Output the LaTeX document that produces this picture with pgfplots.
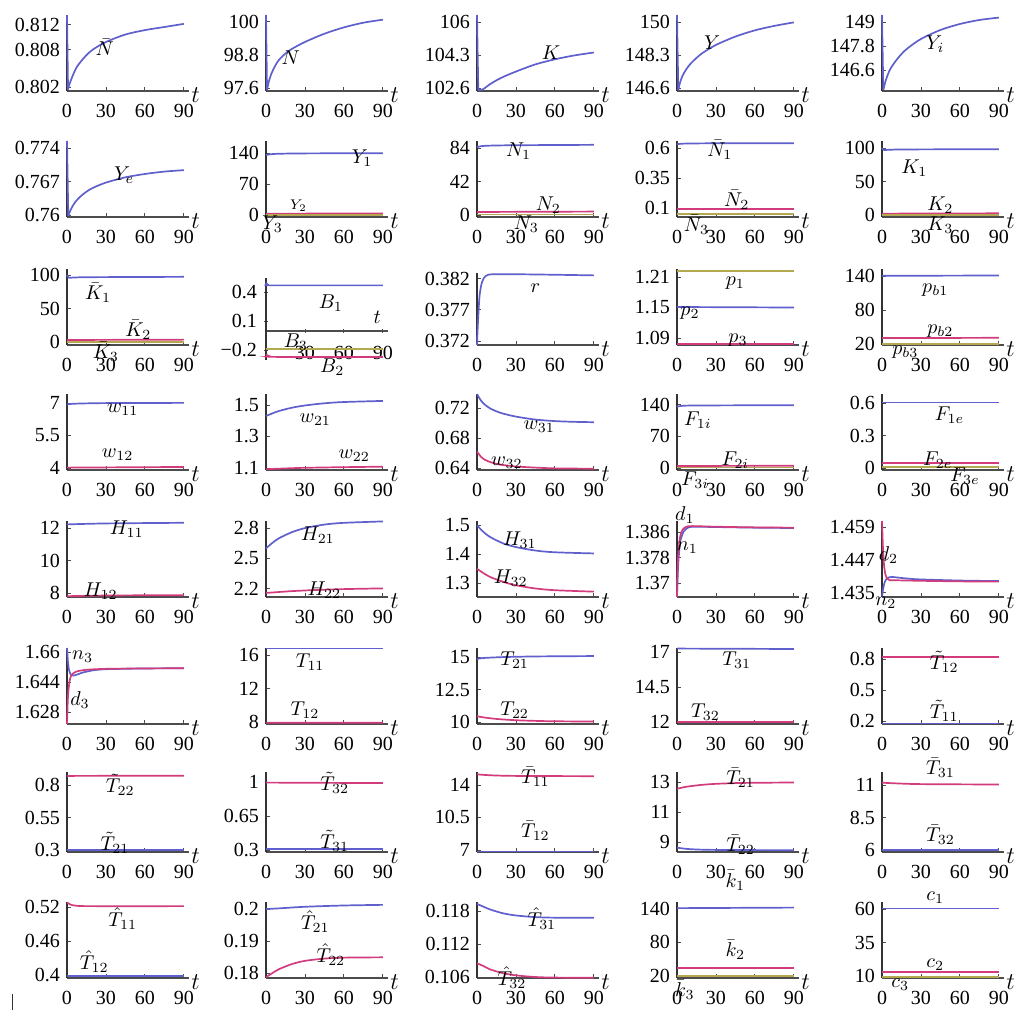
\documentclass[border=0pt]{standalone}
\usepackage{fontspec}
\setmainfont{Liberation Serif}
\usepackage{pgfplots}
\pgfplotsset{compat=1.18}
\definecolor{cb}{RGB}{95,95,205}
\definecolor{cm}{RGB}{210,60,125}
\definecolor{co}{RGB}{180,168,80}

\pgfplotsset{
  cell/.style={
    scale only axis, width=61pt, height=38pt,
    xmin=0, xmax=94,
    axis lines=left,
    x axis line style={-, black!70, line width=0.8pt},
    y axis line style={-, black!80, line width=0.6pt},
    xtick={0,30,60,90}, xticklabels={0,30,60,90},
    tick align=inside, major tick length=2pt,
    tick style={black!70, line width=0.4pt},
    tick label style={font=\fontsize{10}{10}\selectfont},
    xticklabel style={yshift=-3pt},
    /pgf/number format/assume math mode=true,
    xlabel={$t$},
    xlabel style={at={(rel axis cs:1,0)}, anchor=west, inner sep=1pt, yshift=-2pt, font=\large},
    clip=false,
  },
  pos/.style 2 args={at={(#1*0.5pt,-#2*0.5pt)}, anchor=south west},
  bl/.style={color=cb, line width=0.85pt},
  mg/.style={color=cm, line width=0.85pt},
  ol/.style={color=co, line width=0.85pt},
}
\newcommand\lab[3]{\node[inner sep=0pt] at (axis cs:#1,#2) {$#3$};}

\begin{document}
\begin{tikzpicture}
\useasboundingbox (0,0) rectangle (509pt,-505.5pt);

% ---------- row 1
\begin{axis}[cell, pos={67}{91}, ymin=0.80136, ymax=0.81352,
  ytick={0.802,0.808,0.812}, yticklabels={0.802,0.808,0.812}]
\addplot[bl] coordinates {(0,0.8135) (0.8,0.8016)};
\addplot[bl,smooth] coordinates {(0.8,0.8016) (2,0.8025) (4,0.8036) (7,0.805) (10,0.8059) (15,0.8071) (20,0.808) (30,0.8092) (45,0.8104) (60,0.8111) (75,0.8116) (90,0.8121)};
\lab{29}{0.8084}{\bar{N}}
\end{axis}

\begin{axis}[cell, pos={266}{91}, ymin=97.49, ymax=100.25,
  ytick={97.6,98.8,100}, yticklabels={97.6,98.8,100}]
\addplot[bl] coordinates {(0,100.25) (0.8,97.52)};
\addplot[bl,smooth] coordinates {(0.8,97.52) (2,97.8) (4,98.1) (7,98.4) (10,98.62) (15,98.85) (20,99.02) (30,99.27) (45,99.57) (60,99.8) (75,99.97) (90,100.08)};
\lab{19}{98.7}{N}
\end{axis}

\begin{axis}[cell, pos={477}{91}, ymin=102.45, ymax=106.36,
  ytick={102.6,104.3,106}, yticklabels={102.6,104.3,106}]
\addplot[bl] coordinates {(0,106.36) (1,102.5)};
\addplot[bl,smooth] coordinates {(1,102.5) (4,102.52) (7,102.65) (10,102.8) (15,103.0) (20,103.17) (30,103.45) (45,103.82) (60,104.08) (75,104.28) (90,104.43)};
\lab{57}{104.4}{K}
\end{axis}

\begin{axis}[cell, pos={677}{91}, ymin=146.45, ymax=150.36,
  ytick={146.6,148.3,150}, yticklabels={146.6,148.3,150}]
\addplot[bl] coordinates {(0,150.36) (1,146.5)};
\addplot[bl,smooth] coordinates {(1,146.5) (2,146.8) (4,147.2) (7,147.55) (10,147.82) (15,148.15) (20,148.42) (30,148.82) (45,149.25) (60,149.57) (75,149.8) (90,149.98)};
\lab{27}{148.95}{Y}
\end{axis}

\begin{axis}[cell, pos={882}{91}, ymin=145.55, ymax=149.35,
  ytick={146.6,147.8,149}, yticklabels={146.6,147.8,149}]
\addplot[bl] coordinates {(0,149.35) (1,145.6)};
\addplot[bl,smooth] coordinates {(1,145.6) (3,146.1) (6,146.6) (10,147.0) (15,147.4) (20,147.7) (30,148.15) (45,148.6) (60,148.9) (75,149.1) (90,149.22)};
\lab{41}{147.9}{Y_i}
\end{axis}

% ---------- row 2
\begin{axis}[cell, pos={67}{217}, ymin=0.7596, ymax=0.7755,
  ytick={0.76,0.767,0.774}, yticklabels={0.76,0.767,0.774}]
\addplot[bl] coordinates {(0,0.7755) (1,0.7598)};
\addplot[bl,smooth] coordinates {(1,0.7598) (3,0.7612) (6,0.7626) (10,0.7638) (15,0.7649) (20,0.7657) (30,0.7668) (45,0.7679) (60,0.7686) (75,0.7691) (90,0.7694)};
\lab{44}{0.7683}{Y_e}
\end{axis}

\begin{axis}[cell, pos={266}{217}, ymin=-4.5, ymax=167,
  ytick={0,70,140}, yticklabels={0,70,140}]
\addplot[bl,smooth] coordinates {(0,135) (3,137) (10,138.2) (30,139) (90,139.5)};
\addplot[mg] coordinates {(0,3) (90,3.5)};
\addplot[ol] coordinates {(0,0.3) (90,0.3)};
\lab{74}{128}{Y_1}
\node[font=\scriptsize] at (axis cs:25,22) {$Y_2$};
\lab{5}{-20}{Y_3}
\end{axis}

\begin{axis}[cell, pos={477}{217}, ymin=-2.5, ymax=92.8,
  ytick={0,42,84}, yticklabels={0,42,84}]
\addplot[bl,smooth] coordinates {(0,85) (3,86.3) (10,87) (30,87.5) (90,88)};
\addplot[mg] coordinates {(0,3.8) (90,4.3)};
\addplot[ol] coordinates {(0,0.5) (90,0.5)};
\lab{32}{80}{N_1}
\lab{55}{12}{N_2}
\lab{38}{-12}{N_3}
\end{axis}

\begin{axis}[cell, pos={677}{217}, ymin=0.025, ymax=0.658,
  ytick={0.1,0.35,0.6}, yticklabels={0.1,0.35,0.6}]
\addplot[bl,smooth] coordinates {(0,0.63) (5,0.636) (30,0.639) (90,0.64)};
\addplot[mg] coordinates {(0,0.09) (90,0.09)};
\addplot[ol] coordinates {(0,0.05) (90,0.05)};
\lab{33}{0.585}{\bar{N}_1}
\lab{46}{0.167}{\bar{N}_2}
\lab{15}{-0.04}{\bar{N}_3}
\end{axis}

\begin{axis}[cell, pos={882}{217}, ymin=-3, ymax=110.4,
  ytick={0,50,100}, yticklabels={0,50,100}]
\addplot[bl,smooth] coordinates {(0,100) (1.5,97) (5,97.3) (20,97.8) (90,98.2)};
\addplot[mg] coordinates {(0,2) (90,2.5)};
\addplot[ol] coordinates {(0,0.5) (90,0.5)};
\lab{25}{70}{K_1}
\lab{45}{15}{K_2}
\lab{45}{-15}{K_3}
\end{axis}

% ---------- row 3
\begin{axis}[cell, pos={67}{345}, ymin=-4.5, ymax=109,
  ytick={0,50,100}, yticklabels={0,50,100}]
\addplot[bl,smooth] coordinates {(0,100) (1.5,96) (5,96.3) (20,96.8) (90,97.3)};
\addplot[mg] coordinates {(0,3) (90,3.5)};
\addplot[ol] coordinates {(0,0.5) (90,0.5)};
\lab{24}{73}{\bar{K}_1}
\lab{55}{18}{\bar{K}_2}
\lab{30}{-15}{\bar{K}_3}
\end{axis}

\begin{axis}[cell, pos={266}{360}, height=41pt, ymin=-0.30, ymax=0.546,
  axis x line=middle, axis y line=left,
  x axis line style={-}, y axis line style={-},
  every inner x axis line/.append style={-},
  every outer x axis line/.append style={-},
  every inner y axis line/.append style={-},
  every outer y axis line/.append style={-},
  xtick={30,60,90}, xticklabels={30,60,90},
  xlabel style={at={(rel axis cs:1,0.3546)}},
  ytick={-0.2,0.1,0.4}, yticklabels={−0.2,0.1,0.4}]
\addplot[bl,smooth] coordinates {(0,0.5) (1.5,0.475) (5,0.47) (90,0.47)};
\addplot[mg,smooth] coordinates {(0,-0.245) (3,-0.262) (8,-0.268) (90,-0.27)};
\addplot[ol] coordinates {(0,-0.186) (90,-0.186)};
\lab{50}{0.29}{B_1}
\lab{23}{-0.12}{B_3}
\lab{51}{-0.37}{B_2}
\end{axis}

\begin{axis}[cell, pos={477}{345}, height=36pt, ymin=0.37135, ymax=0.3829,
  ytick={0.372,0.377,0.382}, yticklabels={0.372,0.377,0.382}]
\addplot[bl,smooth,tension=0.4] coordinates {(0,0.37135) (0.4,0.3735) (0.8,0.3752) (1.2,0.3768) (1.6,0.3782) (2,0.3793) (3,0.3807) (4,0.3815) (5,0.382) (6.5,0.3824) (8.5,0.3826) (12,0.3827) (30,0.3827) (60,0.38262) (90,0.38252)};
\lab{45}{0.3804}{r}
\end{axis}

\begin{axis}[cell, pos={677}{345}, ymin=1.076, ymax=1.226,
  ytick={1.09,1.15,1.21}, yticklabels={1.09,1.15,1.21}]
\addplot[bl] coordinates {(0,1.151) (90,1.150)};
\addplot[mg] coordinates {(0,1.078) (90,1.078)};
\addplot[ol] coordinates {(0,1.222) (90,1.222)};
\lab{45}{1.198}{p_1}
\lab{10}{1.139}{p_2}
\lab{47}{1.086}{p_3}
\end{axis}

\begin{axis}[cell, pos={882}{345}, ymin=18.8, ymax=153,
  ytick={20,80,140}, yticklabels={20,80,140}]
\addplot[bl] coordinates {(0,141) (90,141.5)};
\addplot[mg] coordinates {(0,31) (90,31.5)};
\addplot[ol] coordinates {(0,20.3) (90,20.3)};
\lab{41}{116}{p_{b1}}
\lab{45}{43}{p_{b2}}
\lab{18}{6}{p_{b3}}
\end{axis}

% ---------- row 4
\begin{axis}[cell, pos={67}{470}, ymin=3.91, ymax=7.42,
  ytick={4,5.5,7}, yticklabels={4,5.5,7}]
\addplot[bl,smooth] coordinates {(0,6.93) (5,6.97) (30,7.0) (90,7.01)};
\addplot[mg] coordinates {(0,4.02) (90,4.05)};
\lab{43}{6.68}{w_{11}}
\lab{39}{4.6}{w_{12}}
\end{axis}

\begin{axis}[cell, pos={266}{470}, ymin=1.087, ymax=1.57,
  ytick={1.1,1.3,1.5}, yticklabels={1.1,1.3,1.5}]
\addplot[bl,smooth] coordinates {(0,1.43) (5,1.447) (10,1.462) (20,1.483) (30,1.497) (45,1.511) (60,1.519) (90,1.526)};
\addplot[mg,smooth] coordinates {(0,1.092) (15,1.097) (30,1.101) (60,1.105) (90,1.108)};
\lab{38}{1.405}{w_{21}}
\lab{68}{1.18}{w_{22}}
\end{axis}

\begin{axis}[cell, pos={477}{470}, ymin=0.6373, ymax=0.7386,
  ytick={0.64,0.68,0.72}, yticklabels={0.64,0.68,0.72}]
\addplot[bl,smooth] coordinates {(0,0.7385) (3,0.73) (6,0.7245) (10,0.7195) (15,0.7155) (20,0.7125) (30,0.7085) (45,0.7045) (60,0.7025) (75,0.7015) (90,0.701)};
\addplot[mg,smooth] coordinates {(0,0.662) (3,0.655) (6,0.651) (10,0.648) (15,0.6455) (20,0.644) (30,0.642) (45,0.6405) (60,0.6395) (90,0.639)};
\lab{48}{0.695}{w_{31}}
\lab{23}{0.647}{w_{32}}
\end{axis}

\begin{axis}[cell, pos={677}{470}, ymin=-4.4, ymax=164,
  ytick={0,70,140}, yticklabels={0,70,140}]
\addplot[bl,smooth] coordinates {(0,135.5) (3,137.5) (15,138.5) (90,139.3)};
\addplot[mg] coordinates {(0,4.5) (90,5)};
\addplot[ol] coordinates {(0,1) (90,1)};
\lab{16}{107}{F_{1i}}
\lab{45}{18}{F_{2i}}
\lab{14}{-26}{F_{3i}}
\end{axis}

\begin{axis}[cell, pos={882}{470}, ymin=-0.018, ymax=0.683,
  ytick={0,0.3,0.6}, yticklabels={0,0.3,0.6}]
\addplot[bl] coordinates {(0,0.605) (90,0.605)};
\addplot[mg] coordinates {(0,0.045) (90,0.045)};
\addplot[ol] coordinates {(0,0.008) (90,0.008)};
\lab{52}{0.49}{F_{1e}}
\lab{43}{0.074}{F_{2e}}
\lab{64}{-0.073}{F_{3e}}
\end{axis}

% ---------- row 5
\begin{axis}[cell, pos={67}{597}, ymin=7.75, ymax=12.43,
  ytick={8,10,12}, yticklabels={8,10,12}]
\addplot[bl,smooth] coordinates {(0,12.22) (30,12.28) (90,12.32)};
\addplot[mg,smooth] coordinates {(0,7.8) (20,7.83) (45,7.85) (90,7.86)};
\lab{46}{11.95}{H_{11}}
\lab{26}{8.1}{H_{12}}
\end{axis}

\begin{axis}[cell, pos={266}{597}, ymin=2.12, ymax=2.87,
  ytick={2.2,2.5,2.8}, yticklabels={2.2,2.5,2.8}]
\addplot[bl,smooth] coordinates {(0,2.6) (5,2.655) (10,2.7) (20,2.76) (30,2.8) (45,2.835) (60,2.852) (90,2.866)};
\addplot[mg,smooth] coordinates {(0,2.16) (20,2.178) (40,2.19) (60,2.198) (90,2.205)};
\lab{40}{2.73}{H_{21}}
\lab{45}{2.19}{H_{22}}
\end{axis}

\begin{axis}[cell, pos={477}{597}, ymin=1.2525, ymax=1.515,
  ytick={1.3,1.4,1.5}, yticklabels={1.3,1.4,1.5}]
\addplot[bl,smooth] coordinates {(0,1.5) (5,1.477) (10,1.46) (20,1.438) (30,1.425) (45,1.413) (60,1.407) (90,1.403)};
\addplot[mg,smooth] coordinates {(0,1.35) (5,1.335) (10,1.322) (20,1.305) (30,1.293) (45,1.282) (60,1.276) (90,1.271)};
\lab{33}{1.449}{H_{31}}
\lab{26}{1.318}{H_{32}}
\end{axis}

\begin{axis}[cell, pos={677}{597}, ymin=1.3657, ymax=1.3896,
  ytick={1.37,1.378,1.386}, yticklabels={1.37,1.378,1.386}]
\addplot[bl,smooth,tension=0.4] coordinates {(0,1.3657) (0.5,1.372) (1,1.3765) (2,1.3815) (3,1.384) (5,1.3862) (8,1.3874) (12,1.3878) (30,1.3877) (60,1.3875) (90,1.3874)};
\addplot[mg,smooth,tension=0.4] coordinates {(0,1.3657) (0.5,1.375) (1,1.379) (2,1.3835) (3,1.3857) (5,1.3872) (8,1.3879) (12,1.388) (30,1.3878) (60,1.3876) (90,1.3875)};
\lab{6}{1.3915}{d_1}
\lab{8}{1.3811}{n_1}
\end{axis}

\begin{axis}[cell, pos={882}{597}, ymin=1.4335, ymax=1.4612,
  ytick={1.435,1.447,1.459}, yticklabels={1.435,1.447,1.459}]
\addplot[bl,smooth,tension=0.4] coordinates {(0,1.4335) (0.8,1.4362) (1.8,1.4385) (3,1.4398) (5,1.4406) (8,1.4408) (12,1.4406) (20,1.4402) (30,1.4399) (60,1.4395) (90,1.4393)};
\addplot[mg,smooth,tension=0.4] coordinates {(0,1.4612) (0.7,1.452) (1.5,1.4455) (2.5,1.442) (4,1.4402) (6,1.4396) (10,1.4396) (30,1.4394) (60,1.4392) (90,1.4391)};
\lab{5}{1.4488}{d_2}
\lab{3}{1.4313}{n_2}
\end{axis}

% ---------- row 6
\begin{axis}[cell, pos={67}{724}, ymin=1.6216, ymax=1.6621,
  ytick={1.628,1.644,1.66}, yticklabels={1.628,1.644,1.66}]
\addplot[bl,smooth,tension=0.4] coordinates {(0,1.6621) (0.7,1.655) (1.5,1.6505) (3,1.6478) (5,1.6474) (8,1.648) (12,1.649) (20,1.6502) (30,1.6508) (60,1.6512) (90,1.6513)};
\addplot[mg,smooth,tension=0.4] coordinates {(0,1.6216) (0.5,1.632) (1,1.639) (2,1.6445) (3,1.647) (5,1.6487) (8,1.6497) (15,1.6505) (30,1.651) (60,1.6512) (90,1.6513)};
\lab{12}{1.6573}{n_3}
\lab{10}{1.6344}{d_3}
\end{axis}

\begin{axis}[cell, pos={266}{724}, ymin=7.76, ymax=16.83,
  ytick={8,12,16}, yticklabels={8,12,16}]
\addplot[bl] coordinates {(0,16.78) (90,16.78)};
\addplot[mg] coordinates {(0,7.9) (90,7.92)};
\lab{34}{15.16}{T_{11}}
\lab{30}{9.43}{T_{12}}
\end{axis}

\begin{axis}[cell, pos={477}{724}, ymin=9.85, ymax=15.7,
  ytick={10,12.5,15}, yticklabels={10,12.5,15}]
\addplot[bl,smooth] coordinates {(0,14.85) (5,14.93) (20,15.0) (45,15.05) (90,15.08)};
\addplot[mg,smooth] coordinates {(0,10.45) (5,10.36) (15,10.24) (30,10.14) (45,10.09) (60,10.06) (90,10.04)};
\lab{29}{14.77}{T_{21}}
\lab{29}{10.93}{T_{22}}
\end{axis}

\begin{axis}[cell, pos={677}{724}, ymin=11.86, ymax=17.29,
  ytick={12,14.5,17}, yticklabels={12,14.5,17}]
\addplot[bl] coordinates {(0,17.25) (90,17.22)};
\addplot[mg] coordinates {(0,12.02) (90,12.02)};
\lab{46}{16.43}{T_{31}}
\lab{22}{12.72}{T_{32}}
\end{axis}

\begin{axis}[cell, pos={882}{724}, ymin=0.17, ymax=0.906,
  ytick={0.2,0.5,0.8}, yticklabels={0.2,0.5,0.8}]
\addplot[bl] coordinates {(0,0.175) (90,0.175)};
\addplot[mg] coordinates {(0,0.82) (90,0.82)};
\lab{48}{0.77}{\tilde{T}_{12}}
\lab{48}{0.3}{\tilde{T}_{11}}
\end{axis}

% ---------- row 7
\begin{axis}[cell, pos={67}{852}, height=40pt, ymin=0.285, ymax=0.90,
  ytick={0.3,0.55,0.8}, yticklabels={0.3,0.55,0.8}]
\addplot[bl] coordinates {(0,0.3) (90,0.3)};
\addplot[mg] coordinates {(0,0.87) (90,0.872)};
\lab{41}{0.8}{\tilde{T}_{22}}
\lab{37}{0.354}{\tilde{T}_{21}}
\end{axis}

\begin{axis}[cell, pos={266}{852}, height=40pt, ymin=0.28, ymax=1.104,
  ytick={0.3,0.65,1}, yticklabels={0.3,0.65,1}]
\addplot[bl] coordinates {(0,0.31) (90,0.31)};
\addplot[mg] coordinates {(0,0.995) (90,0.99)};
\lab{53}{0.99}{\tilde{T}_{32}}
\lab{53}{0.4}{\tilde{T}_{31}}
\end{axis}

\begin{axis}[cell, pos={477}{852}, height=40pt, ymin=6.78, ymax=15.4,
  ytick={7,10.5,14}, yticklabels={7,10.5,14}]
\addplot[bl] coordinates {(0,6.85) (90,6.85)};
\addplot[mg,smooth] coordinates {(0,15.15) (10,15.05) (30,14.98) (90,14.95)};
\lab{45}{14.9}{\bar{T}_{11}}
\lab{45}{9.1}{\bar{T}_{12}}
\end{axis}

\begin{axis}[cell, pos={677}{852}, height=40pt, ymin=8.33, ymax=13.67,
  ytick={9,11,13}, yticklabels={9,11,13}]
\addplot[bl,smooth] coordinates {(0,8.62) (10,8.52) (30,8.47) (90,8.45)};
\addplot[mg,smooth] coordinates {(0,12.55) (5,12.65) (10,12.72) (20,12.82) (30,12.88) (45,12.93) (60,12.95) (90,12.97)};
\lab{49}{13.26}{\bar{T}_{21}}
\lab{49}{8.8}{\bar{T}_{22}}
\end{axis}

\begin{axis}[cell, pos={882}{852}, height=40pt, ymin=5.85, ymax=12.0,
  ytick={6,8.5,11}, yticklabels={6,8.5,11}]
\addplot[bl] coordinates {(0,6.0) (90,6.0)};
\addplot[mg,smooth] coordinates {(0,11.18) (10,11.13) (30,11.07) (90,11.04)};
\lab{45}{12.3}{\bar{T}_{31}}
\lab{45}{7.16}{\bar{T}_{32}}
\end{axis}

% ---------- row 8
\begin{axis}[cell, pos={67}{978}, ymin=0.3947, ymax=0.5288,
  ytick={0.4,0.46,0.52}, yticklabels={0.4,0.46,0.52}]
\addplot[bl] coordinates {(0,0.398) (90,0.398)};
\addplot[mg,smooth] coordinates {(0,0.528) (3,0.524) (8,0.522) (20,0.5215) (90,0.5215)};
\lab{43}{0.4997}{\hat{T}_{11}}
\lab{21}{0.423}{\hat{T}_{12}}
\end{axis}

\begin{axis}[cell, pos={266}{978}, ymin=0.17844, ymax=0.20219,
  ytick={0.18,0.19,0.2}, yticklabels={0.18,0.19,0.2}]
\addplot[bl,smooth] coordinates {(0,0.2) (10,0.2002) (30,0.2007) (60,0.2011) (90,0.2013)};
\addplot[mg,smooth] coordinates {(0,0.1787) (5,0.18) (10,0.1812) (20,0.1828) (30,0.1838) (45,0.1845) (60,0.1848) (90,0.1849)};
\lab{38}{0.196}{\hat{T}_{21}}
\lab{50}{0.1858}{\hat{T}_{22}}
\end{axis}

\begin{axis}[cell, pos={477}{978}, ymin=0.10582, ymax=0.11965,
  ytick={0.106,0.112,0.118}, yticklabels={0.106,0.112,0.118}]
\addplot[bl,smooth] coordinates {(0,0.1193) (5,0.1188) (10,0.1183) (20,0.1176) (30,0.1172) (45,0.1169) (60,0.1168) (90,0.1168)};
\addplot[mg,smooth] coordinates {(0,0.1085) (5,0.108) (10,0.1074) (20,0.1067) (30,0.1063) (45,0.106) (60,0.1059) (90,0.10585)};
\lab{50}{0.1167}{\hat{T}_{31}}
\lab{27}{0.1059}{\hat{T}_{32}}
\end{axis}

\begin{axis}[cell, pos={677}{978}, ymin=16, ymax=152,
  ytick={20,80,140}, yticklabels={20,80,140}]
\addplot[bl] coordinates {(0,141) (90,142)};
\addplot[mg] coordinates {(0,34) (90,34)};
\addplot[ol] coordinates {(0,20) (90,20)};
\lab{45}{191}{\bar{k}_1}
\lab{45}{66}{\bar{k}_2}
\lab{6}{-5}{\bar{k}_3}
\end{axis}

\begin{axis}[cell, pos={882}{978}, ymin=8.5, ymax=65.2,
  ytick={10,35,60}, yticklabels={10,35,60}]
\addplot[bl] coordinates {(0,60.3) (90,60.3)};
\addplot[mg] coordinates {(0,13) (90,13)};
\addplot[ol] coordinates {(0,9.3) (90,9.3)};
\lab{41}{68.2}{c_1}
\lab{41}{18.2}{c_2}
\lab{14}{3.3}{c_3}
\end{axis}

\draw[black!80, line width=0.5pt] (6pt,-497pt) -- (6pt,-505pt);
\end{tikzpicture}
\end{document}
